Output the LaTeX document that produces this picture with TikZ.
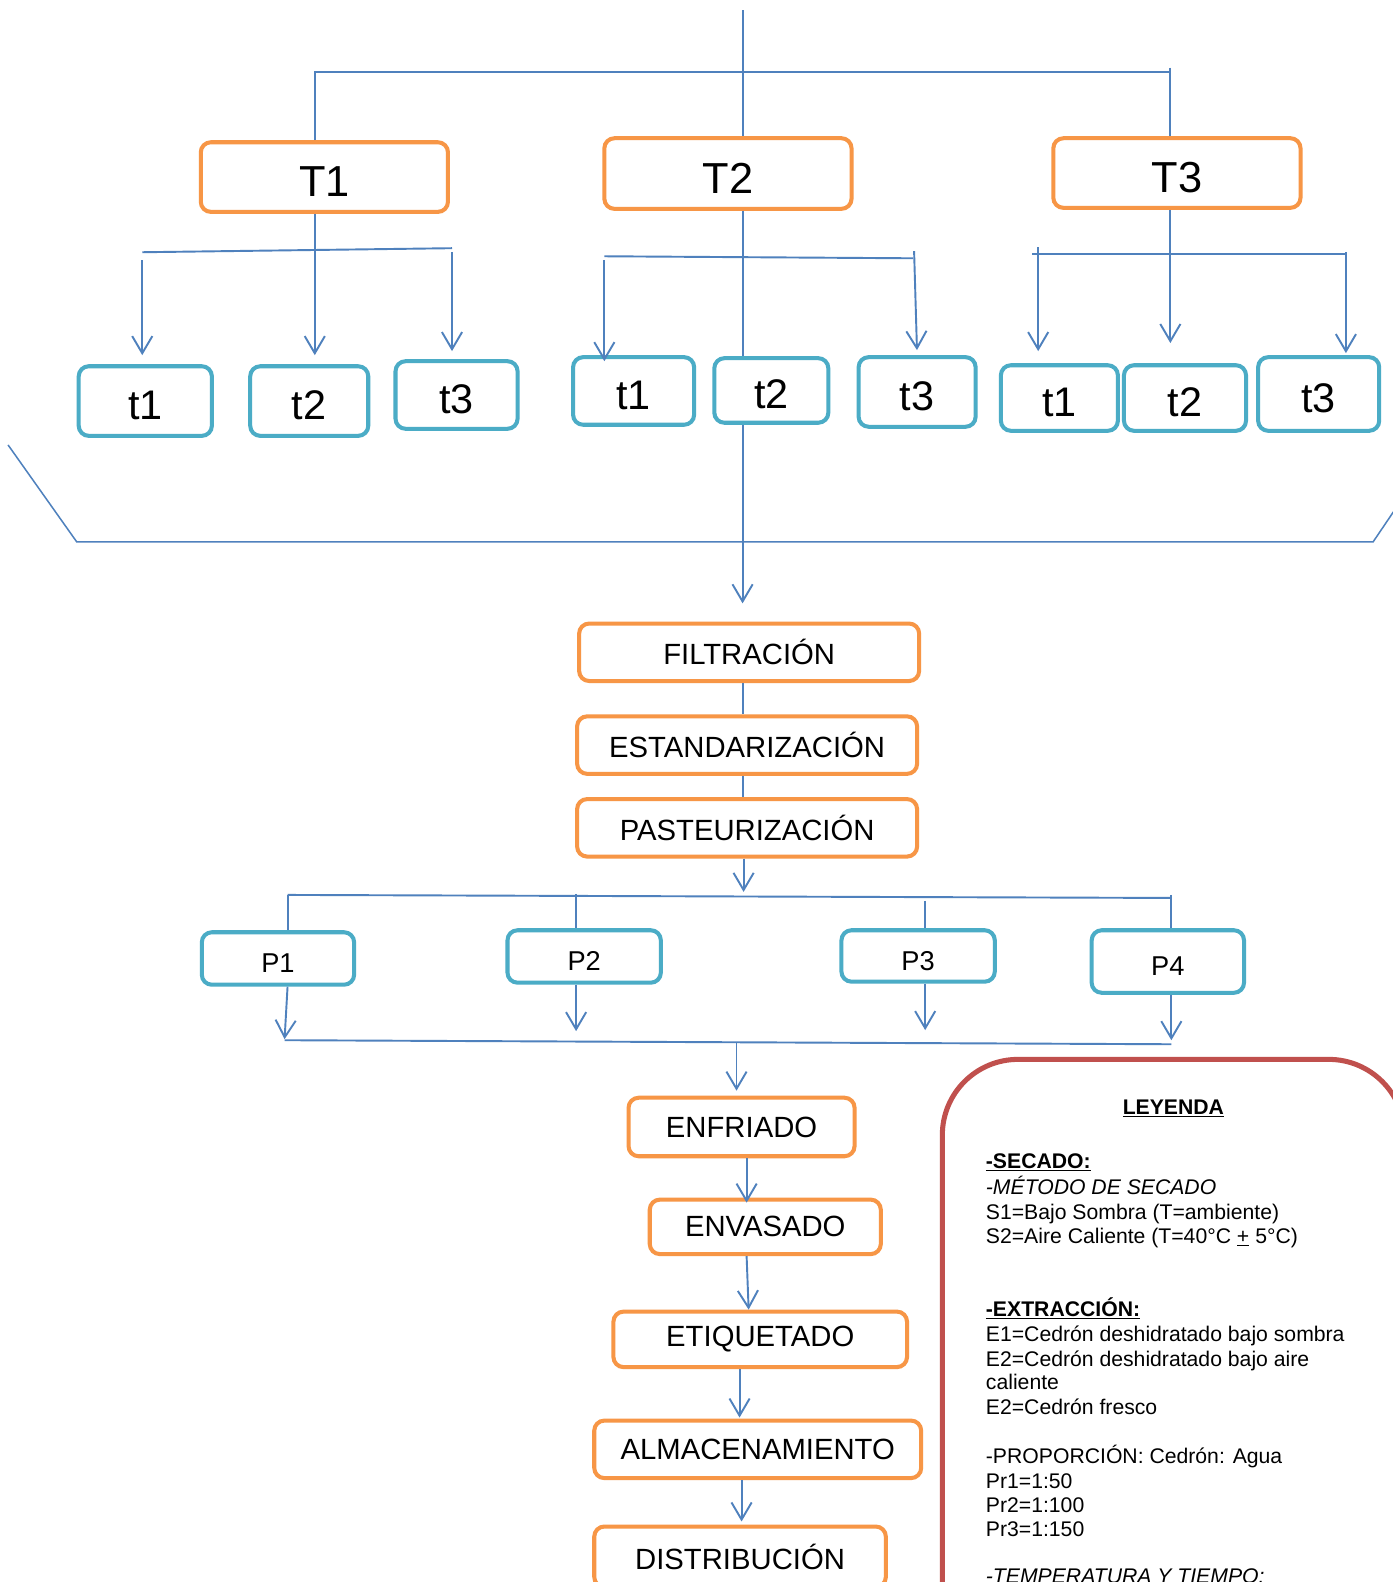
\documentclass[tikz,border=0pt]{standalone}
\usepackage{fontspec}
\setmainfont{Liberation Sans}
\usetikzlibrary{arrows.meta}
\definecolor{orn}{HTML}{F79646}
\definecolor{aqua}{HTML}{4BACC6}
\definecolor{lblue}{HTML}{4F81BD}
\definecolor{lred}{HTML}{C0504D}
\begin{document}
\begin{tikzpicture}[x=1pt,y=-1pt,
  obox/.style={draw=orn, line width=4pt, rounded corners=10pt, inner sep=0pt, fill=white},
  abox/.style={draw=aqua, line width=4pt, rounded corners=10pt, inner sep=0pt, fill=white},
  big/.style={font=\fontsize{43}{50}\selectfont, text height=39pt, text depth=0pt},
  lit/.style={font=\fontsize{41}{48}\selectfont, text height=36.5pt, text depth=0pt},
  mid/.style={font=\fontsize{29}{34}\selectfont},
  sml/.style={font=\fontsize{27}{32}\selectfont, text height=28pt, text depth=0pt},
  conn/.style={draw=lblue, line width=1.9pt},
  arr/.style={conn, -{Straight Barb[length=17pt,width=20pt,line width=1.9pt]}},
  leg/.style={anchor=base west, inner sep=0pt, font=\fontsize{21}{24}\selectfont}]
\useasboundingbox (0,0) rectangle (1380,1568);
\fill[white] (0,0) rectangle (1380,1568);

% ---- top level boxes
\node[obox,big,minimum width=245pt,minimum height=69pt] (T1) at (321.5,175.5) {T1};
\node[obox,big,minimum width=245pt,minimum height=70pt] (T2) at (721.5,172) {T2};
\node[obox,big,minimum width=245pt,minimum height=69pt] (T3) at (1166.5,171.5) {T3};
% ---- second level
\node[abox,lit,minimum width=132pt,minimum height=69pt] (a1) at (144,397.5) {t1};
\node[abox,lit,minimum width=117pt,minimum height=69pt] (a2) at (306.5,397.5) {t2};
\node[abox,lit,minimum width=121pt,minimum height=67pt] (a3) at (452.5,391.5) {t3};
\node[abox,lit,minimum width=120pt,minimum height=67pt] (b1) at (628,387.5) {t1};
\node[abox,lit,minimum width=113pt,minimum height=64pt] (b2) at (764.5,387) {t2};
\node[abox,lit,minimum width=116pt,minimum height=69pt] (b3) at (909,388.5) {t3};
\node[abox,lit,minimum width=116pt,minimum height=65pt] (c1) at (1050,394.5) {t1};
\node[abox,lit,minimum width=121pt,minimum height=65pt] (c2) at (1174.5,394.5) {t2};
\node[abox,lit,minimum width=120pt,minimum height=73pt] (c3) at (1307,390.5) {t3};
% ---- process
\node[obox,mid,minimum width=337pt,minimum height=57pt] (FIL) at (742.5,646.5) {FILTRACIÓN};
\node[obox,mid,minimum width=337pt,minimum height=57pt] (EST) at (740.5,738.5) {ESTANDARIZACIÓN};
\node[obox,mid,minimum width=337pt,minimum height=57pt] (PAS) at (740.5,820.5) {PASTEURIZACIÓN};
\node[abox,sml,minimum width=151pt,minimum height=52pt] (P1) at (275.5,950) {P1};
\node[abox,sml,minimum width=152pt,minimum height=52pt] (P2) at (579,948) {P2};
\node[abox,sml,minimum width=152pt,minimum height=51pt] (P3) at (910,947.5) {P3};
\node[abox,sml,minimum width=151pt,minimum height=62pt] (P4) at (1157.5,953) {P4};
\node[obox,mid,minimum width=224pt,minimum height=58pt] (ENF) at (735,1117) {ENFRIADO};
\node[obox,mid,minimum width=229pt,minimum height=54pt] (ENV) at (758.5,1216) {ENVASADO};
\node[obox,mid,minimum width=291pt,minimum height=55pt] (ETI) at (753.5,1327.5) {ETIQUETADO};
\node[obox,mid,minimum width=324pt,minimum height=57pt] (ALM) at (751,1436.5) {ALMACENAMIENTO};
\node[obox,mid,minimum width=289pt,minimum height=60pt] (DIS) at (733.5,1543) {DISTRIBUCIÓN};

% ---- top connectors
\coordinate (top) at (736,10);
\coordinate (hl) at (312,71);
\coordinate (hr) at (1160,71);
\coordinate (hrt) at (1160,67);
\draw[conn] (top) -- (top |- T2.north);
\draw[conn] (hl |- T1.north) -- (hl) -- (hr);
\draw[conn] (hrt) -- (hrt |- T3.north);
\draw[conn] (top |- T2.south) -- (top |- b2.north);
\draw[arr, shorten >=18pt] (top |- b2.south) -- (top |- FIL.north);

% T1 branch
\coordinate (ahl) at (141,250);
\coordinate (ahr) at (448,246);
\coordinate (a1s) at (141,258);
\coordinate (a3s) at (448,250);
\draw[conn] (ahl) -- (ahr);
\draw[arr, shorten >=9pt] (a1s) -- (a1s |- a1.north);
\draw[arr, shorten >=9pt] (hl |- T1.south) -- (hl |- a2.north);
\draw[arr, shorten >=8pt] (a3s) -- (a3s |- a3.north);

% T2 branch
\coordinate (bhl) at (599,254);
\coordinate (bhr) at (905,256);
\coordinate (b1s) at (599,258);
\coordinate (b3s) at (906,249);
\draw[conn] (bhl) -- (bhr);
\draw[arr, shorten >=-6pt] (b1s) -- (b1s |- b1.north);
\draw[arr, shorten >=5pt] (b3s) -- (b3.north);

% T3 branch
\coordinate (chl) at (1023,252);
\coordinate (chr) at (1334,252);
\coordinate (c1s) at (1029,245);
\coordinate (c3s) at (1334,250);
\draw[conn] (chl) -- (chr);
\draw[arr, shorten >=12pt] (c1s) -- (c1s |- c1.north);
\draw[arr, shorten >=20pt] (hrt |- T3.south) -- (hrt |- c2.north);
\draw[arr, shorten >=2pt] (c3s) -- (c3s |- c3.north);

% bracket
\coordinate (k1) at (8,441);
\coordinate (k2) at (76,537);
\coordinate (k3) at (1361,537);
\coordinate (k4) at (1384,503);
\draw[conn, line width=1.5pt] (k1) -- (k2) -- (k3) -- (k4);

% process chain
\draw[conn] (top |- FIL.south) -- (top |- EST.north);
\draw[conn] (top |- EST.south) -- (top |- PAS.north);
\coordinate (px) at (737,0);
\coordinate (pe) at (737,884);
\draw[arr] (px |- PAS.south) -- (pe);

\coordinate (pl) at (285,887);
\coordinate (pr) at (1161,890);
\coordinate (p2t) at (571,886);
\coordinate (p3t) at (917,893);
\coordinate (p4t) at (1161,887);
\draw[conn] (pl) -- (pr);
\draw[conn] (pl) -- (pl |- P1.north);
\draw[conn] (p2t) -- (p2t |- P2.north);
\draw[conn] (p3t) -- (p3t |- P3.north);
\draw[conn] (p4t) -- (p4t |- P4.north);

\coordinate (ql) at (282,1031);
\coordinate (qr) at (1161,1035);
\draw[conn] (ql) -- (qr);
\draw[arr, shorten >=1pt] (pl |- P1.south) -- (ql);
\draw[arr, shorten >=9pt] (p2t |- P2.south) -- (p2t |- ql);
\draw[arr, shorten >=10pt] (p3t |- P3.south) -- (p3t |- ql);
\draw[arr, shorten >=4pt] (p4t |- P4.south) -- (qr);

\coordinate (ej) at (730,1034);
\coordinate (ex) at (740,0);
\coordinate (ex2) at (742,0);
\coordinate (ex3) at (733,0);
\coordinate (ex4) at (735,0);
\draw[arr, shorten >=5pt] (ej) -- (ej |- ENF.north);
\draw[arr, shorten >=-5pt] (ex |- ENF.south) -- (ex |- ENV.north);
\draw[arr] (ex |- ENV.south) -- (ex2 |- ETI.north);
\draw[arr, shorten >=1pt] (ex3 |- ETI.south) -- (ex3 |- ALM.north);
\draw[arr, shorten >=3pt] (ex4 |- ALM.south) -- (ex4 |- DIS.north);

% legend
\draw[draw=lred, line width=5pt, rounded corners=75pt] (934,1050) rectangle (1392,1700);
\node[anchor=base, inner sep=0pt, font=\fontsize{21}{24}\selectfont\bfseries] (L0) at (1163,1104.5) {\underline{LEYENDA}};
\node[leg] (L1) at (977,1158.5) {\bfseries\underline{-SECADO:}};
\node[leg] (L2) at (977,1183.5) {\itshape -MÉTODO DE SECADO};
\node[leg] (L3) at (977,1208.5) {S1=Bajo Sombra (T=ambiente)};
\node[leg] (L4) at (977,1232.5) {S2=Aire Caliente (T=40°C \underline{+} 5°C)};
\node[leg] (L5) at (977,1304.5) {\bfseries\underline{-EXTRACCIÓN:}};
\node[leg] (L6) at (977,1329.5) {E1=Cedrón deshidratado bajo sombra};
\node[leg] (L7) at (977,1354) {E2=Cedrón deshidratado bajo aire};
\node[leg] (L8) at (977,1377.5) {caliente};
\node[leg] (L9) at (977,1402) {E2=Cedrón fresco};
\node[leg] (L10) at (977,1451) {-PROPORCIÓN: Cedrón: Agua};
\node[leg] (L11) at (977,1475) {Pr1=1:50};
\node[leg] (L12) at (977,1499) {Pr2=1:100};
\node[leg] (L13) at (977,1523) {Pr3=1:150};
\node[leg] (L14) at (977,1569) {\itshape -TEMPERATURA Y TIEMPO:};
\end{tikzpicture}
\end{document}
